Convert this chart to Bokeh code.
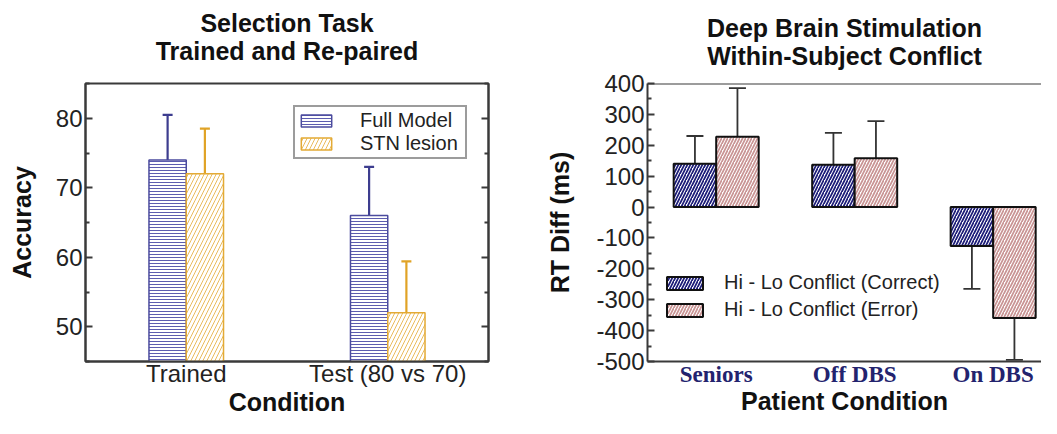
from bokeh.plotting import figure
from bokeh.layouts import row
from bokeh.models import (Range1d, LinearAxis, FixedTicker, Whisker, TeeHead,
                          ColumnDataSource, Legend, LegendItem, Span)
from bokeh.embed import file_html
from bokeh.resources import INLINE

# ---------------- data ----------------
left_title = ["Selection Task", "Trained and Re-paired"]
left_categories = ["Trained", "Test (80 vs 70)"]
full_model = [74, 66]
full_model_err = [6.5, 7.0]
stn_lesion = [72, 52]
stn_lesion_err = [6.5, 7.4]

right_title = ["Deep Brain Stimulation", "Within-Subject Conflict"]
right_categories = ["Seniors", "Off DBS", "On DBS"]
correct = [140, 137, -126]
correct_err = [90, 103, -139]
error = [228, 158, -359]
error_err = [157, 120, -136]

left_yticks = [50, 60, 70, 80]
left_minor = [45, 55, 65, 75, 85]
right_yticks = [-500, -400, -300, -200, -100, 0, 100, 200, 300, 400]
right_ytick_labels = ["-500", "-400", "-300", "-200", "-100", "0", "100", "200", "300", "400"]
right_minor = [-450, -350, -250, -150, -50, 50, 150, 250, 350]

FONT = "Liberation Sans"
AX = "#3a3a3a"
TXT = "#111111"


def style_yaxis(ax, ticks, minor):
    ax.ticker = FixedTicker(ticks=ticks, minor_ticks=minor)
    ax.axis_line_color = AX
    ax.axis_line_width = 2
    ax.major_tick_in = 7
    ax.major_tick_out = 0
    ax.minor_tick_in = 4
    ax.minor_tick_out = 0
    ax.major_tick_line_color = AX
    ax.major_tick_line_width = 2
    ax.minor_tick_line_color = AX
    ax.minor_tick_line_width = 2
    ax.major_label_text_font = FONT
    ax.major_label_text_font_size = "24px"
    ax.major_label_text_color = "#222222"
    ax.major_label_standoff = 3


def axis_label_style(ax, text, size, standoff):
    ax.axis_label = text
    ax.axis_label_text_font = FONT
    ax.axis_label_text_font_style = "bold"
    ax.axis_label_text_font_size = size
    ax.axis_label_text_color = TXT
    ax.axis_label_standoff = standoff


def add_title_axes(p, lines, standoff_near, standoff_far):
    # two label-only axes above the frame act as a two-line title
    for text, so in ((lines[1], standoff_near), (lines[0], standoff_far)):
        ax = LinearAxis(ticker=FixedTicker(ticks=[]))
        ax.axis_line_color = None
        ax.major_tick_line_color = None
        ax.minor_tick_line_color = None
        ax.major_label_standoff = 0
        axis_label_style(ax, text, "25px", so)
        p.add_layout(ax, "above")


# ---------------- left plot ----------------
p1 = figure(width=500, height=418, x_range=Range1d(0, 2), y_range=Range1d(45, 85),
            output_backend="svg", toolbar_location=None,
            min_border_left=85, min_border_right=12, min_border_top=83, min_border_bottom=54)
p1.outline_line_color = AX
p1.outline_line_width = 2
p1.grid.visible = False

bw = 0.185
xl = [i + 0.5 for i in range(len(left_categories))]
src_f = ColumnDataSource(dict(x=[v - bw / 2 for v in xl], top=full_model,
                              up=[a + b for a, b in zip(full_model, full_model_err)]))
src_s = ColumnDataSource(dict(x=[v + bw / 2 for v in xl], top=stn_lesion,
                              up=[a + b for a, b in zip(stn_lesion, stn_lesion_err)]))

rf = p1.vbar(x="x", top="top", bottom=45, width=bw, source=src_f,
             fill_color="white", line_color="#4b4b9e", line_width=1.5,
             hatch_pattern="-", hatch_scale=3, hatch_weight=1, hatch_color="#4b4ba6", hatch_alpha=0.9)
rs = p1.vbar(x="x", top="top", bottom=45, width=bw, source=src_s,
             fill_color="white", line_color="#e3aa35", line_width=1.5,
             hatch_pattern="/", hatch_scale=8, hatch_weight=1, hatch_color="#e8b44a", hatch_alpha=0.9)

for src, col in ((src_f, "#3d3d8f"), (src_s, "#e0a326")):
    p1.add_layout(Whisker(base="x", lower="top", upper="up", source=src, dimension="height",
                          line_color=col, line_width=2.2, lower_head=None,
                          upper_head=TeeHead(size=10, line_color=col, line_width=2.2)))

xa = p1.xaxis[0]
xa.ticker = FixedTicker(ticks=xl)
xa.major_label_overrides = {v: c for v, c in zip(xl, left_categories)}
xa.major_tick_line_color = None
xa.minor_tick_line_color = None
xa.axis_line_color = AX
xa.axis_line_width = 2
xa.major_label_text_font = FONT
xa.major_label_text_font_size = "24px"
xa.major_label_text_color = "#222222"
xa.major_label_standoff = -8
axis_label_style(xa, "Condition", "25px", -2)

ya1 = p1.yaxis[0]
style_yaxis(ya1, left_yticks, left_minor)
axis_label_style(ya1, "Accuracy", "25px", 17)

ra = LinearAxis()
style_yaxis(ra, left_yticks, left_minor)
ra.major_label_text_color = None
ra.major_label_text_font_size = "2px"
ra.major_label_standoff = 0
p1.add_layout(ra, "right")

leg1 = Legend(items=[LegendItem(label="Full Model", renderers=[rf]),
                     LegendItem(label="STN lesion", renderers=[rs])],
              location=(208, 202), orientation="vertical",
              label_text_font=FONT, label_text_font_size="20px", label_text_color="#222222",
              glyph_width=38, glyph_height=15, label_standoff=25, label_width=103,
              padding=2, spacing=0,
              border_line_color=AX, border_line_width=2, background_fill_alpha=1, margin=0)
p1.add_layout(leg1, "center")

add_title_axes(p1, left_title, 19, -3)

# ---------------- right plot ----------------
p2 = figure(width=541, height=418, x_range=Range1d(0.504, 3.349), y_range=Range1d(-500, 400),
            output_backend="svg", toolbar_location=None,
            min_border_left=147, min_border_right=0, min_border_top=78, min_border_bottom=54)
p2.outline_line_color = None
p2.grid.visible = False

bw2 = 0.307
xr = [i + 1 for i in range(len(right_categories))]
src_c = ColumnDataSource(dict(x=[v - bw2 / 2 for v in xr], top=correct,
                              up=[a + b for a, b in zip(correct, correct_err)]))
src_e = ColumnDataSource(dict(x=[v + bw2 / 2 for v in xr], top=error,
                              up=[a + b for a, b in zip(error, error_err)]))

rc = p2.vbar(x="x", top="top", bottom=0, width=bw2, source=src_c,
             fill_color="white", line_color="#111111", line_width=2,
             hatch_pattern="/", hatch_scale=6, hatch_weight=1.7, hatch_color="#1c1c78")
re_ = p2.vbar(x="x", top="top", bottom=0, width=bw2, source=src_e,
              fill_color="white", line_color="#111111", line_width=2,
              hatch_pattern="/", hatch_scale=6, hatch_weight=1.7, hatch_color="#c99494")

for src in (src_c, src_e):
    p2.add_layout(Whisker(base="x", lower="top", upper="up", source=src, dimension="height",
                          line_color="#333333", line_width=1.8, lower_head=None,
                          upper_head=TeeHead(size=17, line_color="#333333", line_width=1.8)))

p2.add_layout(Span(location=400, dimension="width", line_color=AX, line_width=2))

xb = p2.xaxis[0]
xb.ticker = FixedTicker(ticks=xr)
xb.major_label_overrides = {v: c for v, c in zip(xr, right_categories)}
xb.major_tick_line_color = None
xb.minor_tick_line_color = None
xb.axis_line_color = AX
xb.axis_line_width = 2
xb.major_label_text_font = "Liberation Serif"
xb.major_label_text_font_style = "bold"
xb.major_label_text_font_size = "23px"
xb.major_label_text_color = "#23236e"
xb.major_label_standoff = -6
axis_label_style(xb, "Patient Condition", "25px", -3)

ya = p2.yaxis[0]
style_yaxis(ya, right_yticks, right_minor)
ya.major_label_overrides = {v: s for v, s in zip(right_yticks, right_ytick_labels)}
axis_label_style(ya, "RT Diff (ms)", "25px", 19)

leg2 = Legend(items=[LegendItem(label="Hi - Lo Conflict (Correct)", renderers=[rc]),
                     LegendItem(label="Hi - Lo Conflict (Error)", renderers=[re_])],
              location=(15, 40), orientation="vertical",
              label_text_font=FONT, label_text_font_size="20px", label_text_color="#222222",
              glyph_width=45, glyph_height=16, label_standoff=17, padding=4, spacing=4,
              border_line_color=None, background_fill_alpha=0, margin=0)
p2.add_layout(leg2, "center")

add_title_axes(p2, right_title, 14, -3)

layout = row(p1, p2)
open("out.html", "w").write(file_html(layout, INLINE))
